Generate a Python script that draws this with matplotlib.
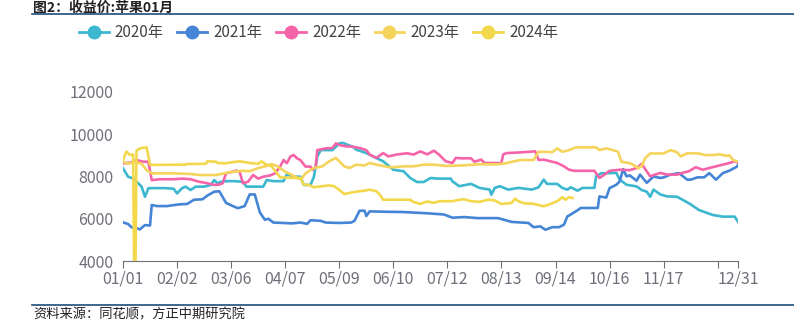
import datetime as dt
import matplotlib
matplotlib.use("Agg")
import matplotlib.pyplot as plt
from matplotlib.lines import Line2D

plt.rcParams['font.family'] = ['Noto Sans CJK SC', 'DejaVu Sans']

# day index (0 = 01/01) and closing price for each contract year
days_2020 = [0, 3, 6, 9, 11, 13, 15, 17, 25, 30, 32, 35, 37, 40, 43, 48, 52, 54, 56, 58, 61, 66, 71, 73, 77, 80,
             83, 85, 89, 95, 97, 101, 105, 107, 111, 113, 115, 117, 124, 128, 130, 136, 138, 144, 148, 154,
             160, 166, 170, 174, 178, 182, 186, 194, 195, 199, 206, 211, 217, 218, 220, 223, 228, 234, 242,
             246, 249, 251, 257, 260, 263, 265, 269, 272, 279, 280, 283, 292, 294, 298, 304, 307, 310, 312,
             314, 318, 322, 328, 335, 341, 349, 355, 362, 364]
vals_2020 = [8390, 7990, 7910, 7680, 7520, 7040, 7440, 7450, 7450, 7420, 7200, 7450, 7520, 7360, 7520, 7520, 7600,
             7830, 7680, 7750, 7780, 7780, 7750, 7520, 7520, 7520, 7520, 7830, 7780, 7780, 8100, 7990, 7990,
             7600, 7600, 7990, 8940, 9250, 9250, 9570, 9590, 9410, 9270, 9110, 8950, 8720, 8320, 8250, 7930,
             7740, 7740, 7930, 7900, 7900, 7770, 7540, 7650, 7460, 7380, 7140, 7460, 7540, 7380, 7460, 7380,
             7490, 7850, 7650, 7650, 7460, 7380, 7490, 7330, 7460, 7460, 8010, 8150, 8170, 7850, 7610, 7530,
             7360, 7280, 7040, 7380, 7150, 7060, 7040, 6730, 6410, 6180, 6100, 6100, 5860]

days_2021 = [0, 3, 5, 8, 10, 13, 16, 17, 20, 26, 33, 38, 42, 47, 50, 54, 57, 61, 65, 68, 72, 75, 78, 81, 84, 86,
             89, 95, 100, 105, 109, 111, 117, 120, 128, 135, 137, 140, 143, 144, 146, 155, 165, 170, 180, 190,
             195, 202, 210, 222, 230, 240, 243, 247, 250, 254, 258, 261, 263, 265, 268, 271, 281, 282, 286,
             288, 292, 294, 296, 298, 300, 304, 306, 310, 314, 318, 320, 324, 329, 334, 336, 340, 344, 347,
             351, 355, 359, 363, 364]
vals_2021 = [5830, 5750, 5600, 5550, 5500, 5700, 5680, 6650, 6600, 6600, 6680, 6700, 6900, 6920, 7100, 7280, 7300,
             6750, 6600, 6500, 6600, 7150, 7150, 6300, 5950, 6000, 5820, 5800, 5780, 5820, 5760, 5930, 5900,
             5820, 5800, 5820, 5900, 6380, 6380, 6130, 6350, 6330, 6320, 6300, 6260, 6200, 6050, 6080, 6030,
             6030, 5850, 5800, 5600, 5640, 5480, 5600, 5600, 5720, 6110, 6200, 6350, 6510, 6510, 7060, 7000,
             7450, 7610, 7770, 8350, 8010, 8050, 7800, 8090, 7700, 8000, 7930, 7960, 8090, 8160, 7850, 7850,
             7960, 7960, 8160, 7850, 8160, 8280, 8450, 8530]

days_2022 = [0, 4, 8, 12, 15, 17, 22, 30, 35, 40, 45, 50, 54, 57, 59, 61, 65, 67, 69, 71, 74, 77, 80, 83, 87, 90,
             93, 95, 97, 99, 101, 103, 105, 108, 111, 112, 114, 115, 120, 124, 126, 128, 132, 136, 140, 144,
             146, 150, 154, 157, 162, 168, 172, 176, 180, 184, 187, 191, 195, 197, 200, 206, 208, 212, 214,
             224, 225, 227, 235, 244, 246, 249, 253, 257, 261, 264, 267, 279, 282, 285, 288, 294, 300, 304,
             307, 310, 312, 318, 322, 328, 331, 335, 339, 343, 347, 351, 355, 359, 362, 364]
vals_2022 = [8620, 8650, 8780, 8700, 8700, 7830, 7870, 7870, 7900, 7870, 7750, 7680, 7600, 7620, 7680, 8150,
             8230, 8280, 8230, 7680, 7750, 8070, 7900, 7990, 8050, 8150, 8470, 8780, 8630, 8940, 9020, 8860,
             8780, 8470, 8470, 8310, 8420, 9250, 9330, 9350, 9570, 9490, 9430, 9410, 9350, 9250, 9040, 8880,
             9110, 8950, 9040, 9100, 9040, 9190, 9050, 9220, 9040, 8720, 8640, 8880, 8860, 8860, 8700, 8800,
             8640, 8640, 9040, 9110, 9140, 9190, 8780, 8800, 8720, 8640, 8480, 8320, 8270, 8270, 7930, 8090,
             8270, 8320, 8300, 8400, 8600, 8240, 8010, 8170, 8090, 8090, 8170, 8250, 8440, 8320, 8400, 8480,
             8560, 8640, 8720, 8650]

days_2023 = [0, 3, 7, 11, 14, 16, 17, 30, 40, 45, 55, 60, 63, 70, 75, 80, 85, 88, 91, 96, 100, 104, 106, 108, 113,
             118, 122, 126, 131, 134, 138, 143, 146, 150, 154, 158, 166, 172, 178, 184, 191, 200, 211, 222,
             226, 235, 243, 246, 249, 254, 257, 260, 264, 268, 274, 280, 282, 286, 290, 293, 295, 300, 302,
             305, 307, 309, 312, 320, 324, 328, 330, 334, 341, 344, 349, 353, 357, 359, 361, 364]
vals_2023 = [8700, 8600, 8700, 8600, 8300, 8200, 8150, 8150, 8120, 8070, 8070, 8150, 8200, 8270, 8250, 8400,
             8500, 8590, 8500, 8230, 8070, 7900, 7930, 8150, 8400, 8480, 8720, 8880, 8480, 8400, 8560, 8520,
             8640, 8560, 8500, 8430, 8480, 8480, 8560, 8560, 8500, 8520, 8580, 8580, 8620, 8780, 8780, 9170,
             9170, 9150, 9330, 9170, 9250, 9380, 9380, 9380, 9250, 9330, 9250, 9170, 8700, 8630, 8550, 8390,
             8500, 8860, 9090, 9090, 9250, 9150, 8950, 9100, 9090, 9020, 9010, 9050, 8980, 9000, 8780, 8700]

days_2024 = [0, 2, 4, 6, 7, 8, 9, 11, 14, 16, 17, 37, 38, 49, 50, 55, 56, 60, 69, 75, 80, 82, 84, 88, 90, 93, 96,
             105, 107, 110, 113, 118, 122, 125, 129, 131, 137, 143, 146, 150, 152, 154, 160, 170, 172, 176,
             180, 184, 187, 195, 199, 202, 206, 211, 216, 220, 224, 230, 232, 234, 238, 242, 246, 249, 253,
             257, 260, 262, 264, 266]
vals_2024 = [8780, 9180, 9020, 9050, 0, 9220, 9290, 9350, 9380, 8560, 8550, 8560, 8590, 8600, 8720, 8700, 8640,
             8620, 8720, 8640, 8600, 8720, 8600, 8480, 8270, 7960, 7950, 7930, 7610, 7600, 7490, 7540, 7580,
             7540, 7300, 7170, 7270, 7330, 7380, 7300, 7140, 6900, 6900, 6900, 6790, 6700, 6820, 6750, 6830,
             6830, 6900, 6920, 6830, 6800, 6900, 6870, 6700, 6750, 6950, 6830, 6720, 6720, 6650, 6590, 6700,
             6830, 7020, 6900, 7020, 6980]

labels = ['2020年', '2021年', '2022年', '2023年', '2024年']
colors = ['#3BB7CF', '#4585D6', '#F564A9', '#F5D45C', '#F3D84C']
series = [(days_2020, vals_2020), (days_2021, vals_2021), (days_2022, vals_2022),
          (days_2023, vals_2023), (days_2024, vals_2024)]

tick_days = list(range(0, 353, 32)) + [364]
start = dt.date(2023, 1, 1)
tick_labels = [(start + dt.timedelta(days=d)).strftime('%m/%d') for d in tick_days]
tick_labels[-2] = ''

fig = plt.figure(figsize=(7.94, 3.22), dpi=100)
ax = fig.add_axes([123 / 794, 61 / 322, 615 / 794, 169 / 322])

for (d, v), c in zip(series, colors):
    ax.plot(d, v, color=c, lw=1.9, solid_joinstyle='round')

ax.set_xlim(0, 364)
ax.set_ylim(4000, 12000)
ax.set_yticks([4000, 6000, 8000, 10000, 12000])
ax.set_xticks(tick_days)
ax.set_xticklabels(tick_labels)
for s in ['top', 'right', 'left']:
    ax.spines[s].set_visible(False)
ax.spines['bottom'].set_color('#6E7079')
ax.tick_params(axis='y', length=0, pad=7, labelsize=11.5, labelcolor='#6E7079')
ax.tick_params(axis='x', length=5, color='#6E7079', labelsize=11.5, labelcolor='#6E7079', pad=2)

handles = [Line2D([], [], color=c, lw=2, marker='o', markersize=9) for c in colors]
fig.legend(handles, labels, ncol=5, loc='center left', bbox_to_anchor=(65 / 794, 1 - 33 / 322),
           frameon=False, fontsize=11, handlelength=1.95, columnspacing=0.9, handletextpad=0.4,
           labelcolor='#444444')

fig.text(33 / 794, 1 - 1 / 322, '图2：收益价:苹果01月', fontsize=10, fontweight='bold', va='top', color='#222222')
fig.add_artist(Line2D([32 / 794, 1], [1 - 14 / 322] * 2, color='#1F4E79', lw=1.2))
fig.add_artist(Line2D([32 / 794, 1], [1 - 305 / 322] * 2, color='#1F4E79', lw=1.2))
fig.text(33 / 794, 1 - 315 / 322, '资料来源：同花顺，方正中期研究院', fontsize=9.5, style='italic', va='center', color='#222222')

fig.savefig('out.png', dpi=100)
